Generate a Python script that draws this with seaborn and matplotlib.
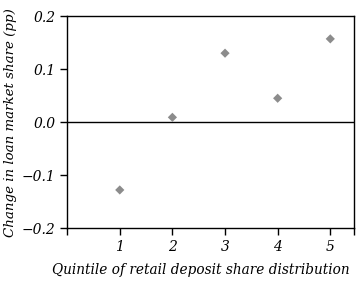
import matplotlib
matplotlib.use("Agg")
import matplotlib.pyplot as plt
import seaborn as sns
import pandas as pd

quintiles = [1, 2, 3, 4, 5]
loan_share_change = [-0.128, 0.009, 0.130, 0.045, 0.157]

sns.set_theme(style="ticks")
plt.rcParams["font.family"] = ["DejaVu Serif"]
plt.rcParams["font.style"] = "italic"
plt.rcParams["text.color"] = "black"
plt.rcParams["axes.labelcolor"] = "black"

df = pd.DataFrame({"quintile": quintiles, "change": loan_share_change})

fig, ax = plt.subplots(figsize=(3.59, 2.82), dpi=100)
sns.scatterplot(data=df, x="quintile", y="change", marker="D", s=22,
                color="#8c8c8c", edgecolor="none", ax=ax, zorder=3)
ax.axhline(0, color="black", linewidth=1)

ax.set_xlim(0, 5.45)
ax.set_ylim(-0.2, 0.2)
ax.set_xticks([0, 1, 2, 3, 4, 5, 5.45])
ax.set_xticklabels(["", "1", "2", "3", "4", "5", ""], style="italic", fontsize=10)
ax.set_yticks([-0.2, -0.1, 0.0, 0.1, 0.2])
ax.set_yticklabels(["\u22120.2", "\u22120.1", "0.0", "0.1", "0.2"], style="italic", fontsize=10)
ax.tick_params(direction="out", length=5, width=1, colors="black")
for s in ax.spines.values():
    s.set_color("black")
    s.set_linewidth(1)

ax.set_xlabel("Quintile of retail deposit share distribution", fontsize=9.8, style="italic")
ax.xaxis.set_label_coords(0.465, -0.165)
ax.set_ylabel("Change in loan market share (pp)", fontsize=9.6, style="italic", labelpad=3)

fig.subplots_adjust(left=0.187, right=0.986, top=0.943, bottom=0.191)
fig.savefig("out.png", dpi=100)
